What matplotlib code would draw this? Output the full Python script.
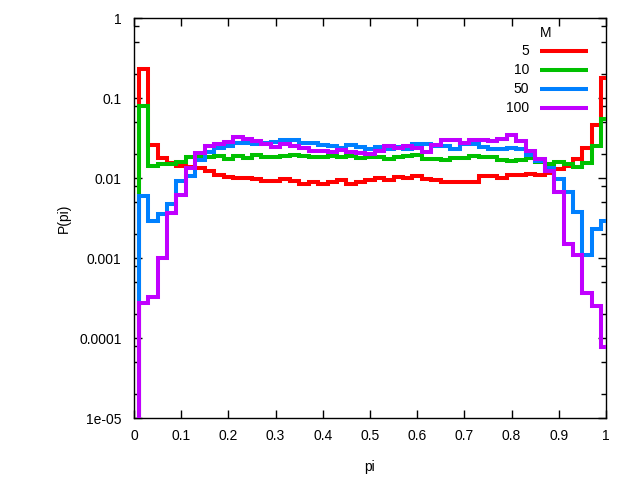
import numpy as np
import matplotlib
matplotlib.use("Agg")
import matplotlib.pyplot as plt
from matplotlib.ticker import FixedLocator, NullFormatter, NullLocator

plt.rcParams['font.family'] = ['Liberation Sans', 'DejaVu Sans']

# histogram bins (50 bins, plotted shifted like gnuplot "steps")
bin_edges = np.linspace(0.01, 1.01, 51)

series_labels = ["5", "10", "50", "100"]
series_colors = ["#ff0000", "#00c000", "#0080ff", "#c000ff"]

p_m5 = [0.228, 0.0259, 0.0179, 0.0154, 0.01425, 0.0137, 0.0132, 0.0123, 0.0110, 0.0102,
        0.0099, 0.0099, 0.0097, 0.0092, 0.0092, 0.0096, 0.0092, 0.0084, 0.0088, 0.0084,
        0.0088, 0.0094, 0.0084, 0.0088, 0.0094, 0.0099, 0.0094, 0.0102, 0.0099, 0.0105,
        0.0096, 0.0094, 0.0088, 0.0088, 0.0088, 0.0088, 0.0107, 0.0107, 0.0101, 0.0110,
        0.0110, 0.0113, 0.0110, 0.0117, 0.0128, 0.0140, 0.0171, 0.0235, 0.046, 0.18]

p_m10 = [0.080, 0.0143, 0.0149, 0.0149, 0.0157, 0.0184, 0.0184, 0.0184, 0.0188, 0.0171,
         0.0188, 0.0179, 0.0194, 0.0182, 0.0182, 0.0188, 0.0194, 0.0188, 0.0182, 0.0182,
         0.0191, 0.0183, 0.0191, 0.0177, 0.0181, 0.0184, 0.0175, 0.0183, 0.0188, 0.0194,
         0.0175, 0.0175, 0.0170, 0.0179, 0.0179, 0.0188, 0.0183, 0.0182, 0.0167, 0.0162,
         0.0170, 0.0177, 0.0160, 0.0150, 0.0160, 0.0150, 0.0137, 0.0156, 0.0254, 0.0546]

p_m50 = [0.0060, 0.0029, 0.0035, 0.0048, 0.0092, 0.0107, 0.0168, 0.0213, 0.0239, 0.0251,
         0.0272, 0.0272, 0.0266, 0.0272, 0.0284, 0.0299, 0.0299, 0.0272, 0.0272, 0.0259,
         0.0251, 0.0235, 0.0259, 0.0243, 0.0231, 0.0245, 0.0230, 0.0243, 0.0230, 0.0264,
         0.0264, 0.0254, 0.0254, 0.0230, 0.0264, 0.0264, 0.0247, 0.0229, 0.0229, 0.0239,
         0.0230, 0.0194, 0.0164, 0.0134, 0.0097, 0.0067, 0.0038, 0.00109, 0.0023, 0.00293]

p_m100 = [0.000271, 0.000329, 0.00099, 0.0036, 0.0061, 0.0135, 0.0207, 0.0254, 0.0266, 0.0278,
          0.0325, 0.0305, 0.0294, 0.0266, 0.0241, 0.0264, 0.0251, 0.0239, 0.0219, 0.0219,
          0.0213, 0.0222, 0.0213, 0.0204, 0.0198, 0.0219, 0.0249, 0.0235, 0.0249, 0.0239,
          0.0213, 0.0259, 0.0296, 0.0296, 0.0274, 0.0301, 0.0301, 0.0294, 0.0305, 0.0340,
          0.0287, 0.0220, 0.0173, 0.0123, 0.0066, 0.0015, 0.00109, 0.00036, 0.000254, 0.000078]

series = [p_m5, p_m10, p_m50, p_m100]

x_ticks = [0, 0.1, 0.2, 0.3, 0.4, 0.5, 0.6, 0.7, 0.8, 0.9, 1]
x_tick_labels = ["0", "0.1", "0.2", "0.3", "0.4", "0.5", "0.6", "0.7", "0.8", "0.9", "1"]
y_ticks = [1e-5, 1e-4, 1e-3, 1e-2, 1e-1, 1]
y_tick_labels = ["1e-05", "0.0001", "0.001", "0.01", "0.1", "1"]

fig = plt.figure(figsize=(6.4, 4.8), dpi=100)
ax = fig.add_axes([134/640, 62/480, 472/640, 400/480])

for vals, col in zip(series, series_colors):
    ax.stairs(vals, bin_edges, baseline=1e-9, color=col, linewidth=2.9, zorder=3)

ax.set_yscale('log')
ax.set_xlim(0, 1)
ax.set_ylim(1e-5, 1)

ax.xaxis.set_major_locator(FixedLocator(x_ticks))
ax.set_xticklabels(x_tick_labels)
ax.xaxis.set_minor_locator(NullLocator())
ax.yaxis.set_major_locator(FixedLocator(y_ticks))
ax.set_yticklabels(y_tick_labels)
minor = [m * 10.0**d for d in range(-5, 0) for m in (2, 5, 8)]
ax.yaxis.set_minor_locator(FixedLocator(minor))
ax.yaxis.set_minor_formatter(NullFormatter())

ax.tick_params(which='both', direction='in', top=True, right=True, colors='black',
               labelsize=10, width=1)
ax.tick_params(which='major', length=6)
ax.tick_params(which='minor', length=3.5)
ax.tick_params(axis='y', pad=9)
ax.tick_params(axis='x', pad=8)
for s in ax.spines.values():
    s.set_linewidth(1)
    s.set_color('black')

ax.set_xlabel("pi", fontsize=10, labelpad=12)
ax.set_ylabel("P(pi)", fontsize=10, labelpad=6)

# gnuplot-style key: label on the left, line sample on the right
def ax_x(px):
    return (px - 134) / 472
def ax_y(py):
    return (418 - py) / 400

ax.text(ax_x(546), ax_y(33), "M", fontsize=10, ha='center', va='center', transform=ax.transAxes)
rows_py = [51, 70, 89, 108]
for lab, col, py in zip(series_labels, series_colors, rows_py):
    ax.text(ax_x(529), ax_y(py), lab, fontsize=10, ha='right', va='center', transform=ax.transAxes)
    ax.plot([ax_x(540), ax_x(588)], [ax_y(py), ax_y(py)], color=col, linewidth=2.9,
            transform=ax.transAxes, solid_capstyle='butt', clip_on=False)

fig.savefig("out.png", dpi=100)
